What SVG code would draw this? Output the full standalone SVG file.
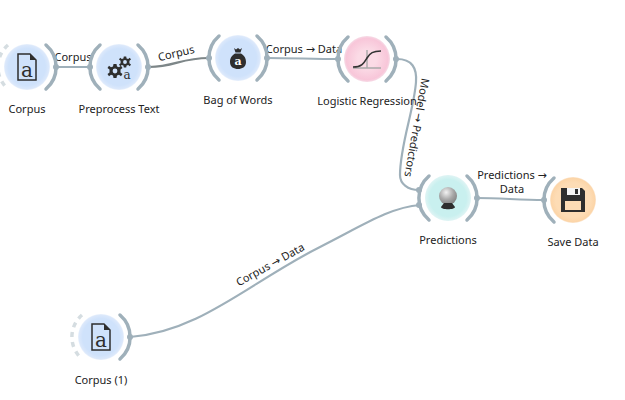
<svg xmlns="http://www.w3.org/2000/svg" width="625" height="400" viewBox="0 0 625 400">
<style>
text{font-family:"Noto Sans","DejaVu Sans",sans-serif;font-size:11px;fill:#222;text-anchor:middle}
.arc{fill:none;stroke:#9fb0ba;stroke-width:3.5;stroke-linecap:round}
.dash{fill:none;stroke:#d5dde1;stroke-width:3.5;stroke-dasharray:5 5}
.port{fill:#9fb0ba}
.link{fill:none;stroke:#9fb0ba;stroke-width:2.2}
.ink{fill:#2e2e2e}
.icona{font-family:"DejaVu Serif",serif;font-weight:normal;fill:#2e2e2e}
</style>
<defs>
<radialGradient id="blue"><stop offset="0.8" stop-color="#cfe2fb"/><stop offset="0.95" stop-color="#dbe8fb"/><stop offset="1" stop-color="#e9f1fc"/></radialGradient>
<radialGradient id="pink"><stop offset="0.4" stop-color="#fbdbe6"/><stop offset="0.9" stop-color="#f8c6d9"/><stop offset="1" stop-color="#f6dbe6"/></radialGradient>
<radialGradient id="cyan"><stop offset="0.8" stop-color="#c9f0ef"/><stop offset="1" stop-color="#dff4f4"/></radialGradient>
<radialGradient id="orange"><stop offset="0.75" stop-color="#fddcb5"/><stop offset="0.95" stop-color="#fcd5a8"/><stop offset="1" stop-color="#fbe6cf"/></radialGradient>
<radialGradient id="globe" cx="0.4" cy="0.3" r="0.8"><stop offset="0" stop-color="#f2f2f2"/><stop offset="0.5" stop-color="#a8a8a8"/><stop offset="1" stop-color="#777"/></radialGradient>
<path id="la" class="arc" d="M-19-22A29 29 0 0 0-19 22"/>
<path id="ra" class="arc" d="M19-22A29 29 0 0 1 19 22"/>
<path id="ld" class="dash" d="M-19-22A29 29 0 0 0-19 22"/>
<g id="doc"><path d="M-9-13H3L9-7V13H-9Z" fill="none" stroke="#2e2e2e" stroke-width="1.500"/><path d="M3-13L9-7H3Z" fill="#2e2e2e"/></g>
<path id="gear" d="M-1.500-7H1.500L2-4.500 4-3.700 6-5.200 7.500-3 5.500-1.500 5.500 1.500 7.500 3 6 5.200 4 3.700 2 4.500 1.500 7H-1.500L-2 4.500-4 3.700-6 5.200-7.500 3-5.500 1.500-5.500-1.500-7.500-3-6-5.200-4-3.700-2-4.500Z M0-2.400A2.400 2.400 0 1 0 0 2.400 2.400 2.400 0 1 0 0-2.400Z" fill="#2e2e2e" fill-rule="evenodd"/>
</defs>

<g id="connectors">
<path class="link" d="M56 67H90"/>
<path class="link" style="stroke:#7d8688" d="M149 67C175 67 180 58 209 58"/>
<path class="link" d="M267 58C290 58 315 59 338 59"/>
<path class="link" d="M397 59C412 59 417 68 416 82C414 110 400 145 400 175C400 184 408 190 419 190"/>
<path class="link" d="M130 337C200 332 250 282 320 247C360 227 390 207 420 205"/>
<path class="link" d="M477 198C500 198 520 200 544 200"/>
<text x="73" y="61">Corpus</text>
<text transform="translate(177 57) rotate(-13)">Corpus</text>
<text x="304" y="53">Corpus → Data</text>
<text transform="translate(413 127) rotate(100)">Model → Predictors</text>
<text x="512" y="179">Predictions →</text>
<text x="512" y="193">Data</text>
<text transform="translate(272 268) rotate(-29)">Corpus → Data</text>
</g>

<g id="corpus" transform="translate(27 67)">
<use href="#ld"/><use href="#ra"/><circle r="23" fill="url(#blue)"/>
<use href="#doc"/><text class="icona" y="10" style="font-size:20px">a</text>
<circle class="port" cx="29" r="3"/>
<text y="46">Corpus</text>
</g>

<g id="preprocess-text" transform="translate(119 67)">
<use href="#la"/><use href="#ra"/><circle r="23" fill="url(#blue)"/>
<use href="#gear" transform="translate(-4 4)"/><use href="#gear" transform="translate(6 -5) scale(.8)"/>
<text class="icona" x="8" y="12" style="font-size:12px">a</text>
<circle class="port" cx="-29" r="3"/><circle class="port" cx="29" r="3"/>
<text y="46">Preprocess Text</text>
</g>

<g id="bag-of-words" transform="translate(238 58)">
<use href="#la"/><use href="#ra"/><circle r="23" fill="url(#blue)"/>
<path class="ink" d="M-4-10-2-8.500 0-10 2-8.500 4-10 2.500-5.500H-2.500ZM-3-4.500H3C7-2 8 1 8 4 8 9 4 11 0 11-4 11-8 9-8 4-8 1-7-2-3-4.500Z"/>
<text class="icona" y="7" style="font-size:11px;font-weight:bold;fill:#fff">a</text>
<circle class="port" cx="-29" r="3"/><circle class="port" cx="29" r="3"/>
<text y="46">Bag of Words</text>
</g>

<g id="logistic-regression" transform="translate(367 59)">
<use href="#la"/><use href="#ra"/><circle r="23" fill="url(#pink)"/>
<path d="M-14 9H14M0-9V9" fill="none" stroke="#a9a9a9" stroke-width="1.400"/>
<path d="M-14 8C-5 8-3 4 0-1 3-6 6-8 14-8" fill="none" stroke="#333" stroke-width="1.600"/>
<circle class="port" cx="-29" r="3"/><circle class="port" cx="29" r="3"/>
<text y="46">Logistic Regression</text>
</g>

<g id="predictions" transform="translate(448 198)">
<use href="#la"/><use href="#ra"/><circle r="23" fill="url(#cyan)"/>
<circle cy="-2" r="9" fill="url(#globe)"/>
<path class="ink" d="M-4 5H4L7 9C7 12-7 12-7 9Z"/>
<circle class="port" cx="-29" cy="-8" r="3"/><circle class="port" cx="-29" cy="7" r="3"/><circle class="port" cx="29" r="3"/>
<text y="46">Predictions</text>
</g>

<g id="save-data" transform="translate(573 200)">
<use href="#la"/><circle r="23" fill="url(#orange)"/>
<path class="ink" d="M-12-12H9L12-9V12H-12Z"/>
<rect x="-6" y="-12" width="13" height="7" fill="#f4f4f4"/><rect x="2" y="-11" width="3" height="5" fill="#2e2e2e"/>
<rect x="-8" y="1" width="16" height="9" fill="#fddcb5"/>
<circle class="port" cx="-29" r="3"/>
<text y="46">Save Data</text>
</g>

<g id="corpus-1" transform="translate(101 337)">
<use href="#ld"/><use href="#ra"/><circle r="23" fill="url(#blue)"/>
<use href="#doc"/><text class="icona" y="10" style="font-size:20px">a</text>
<circle class="port" cx="29" r="3"/>
<text y="47">Corpus (1)</text>
</g>
</svg>
